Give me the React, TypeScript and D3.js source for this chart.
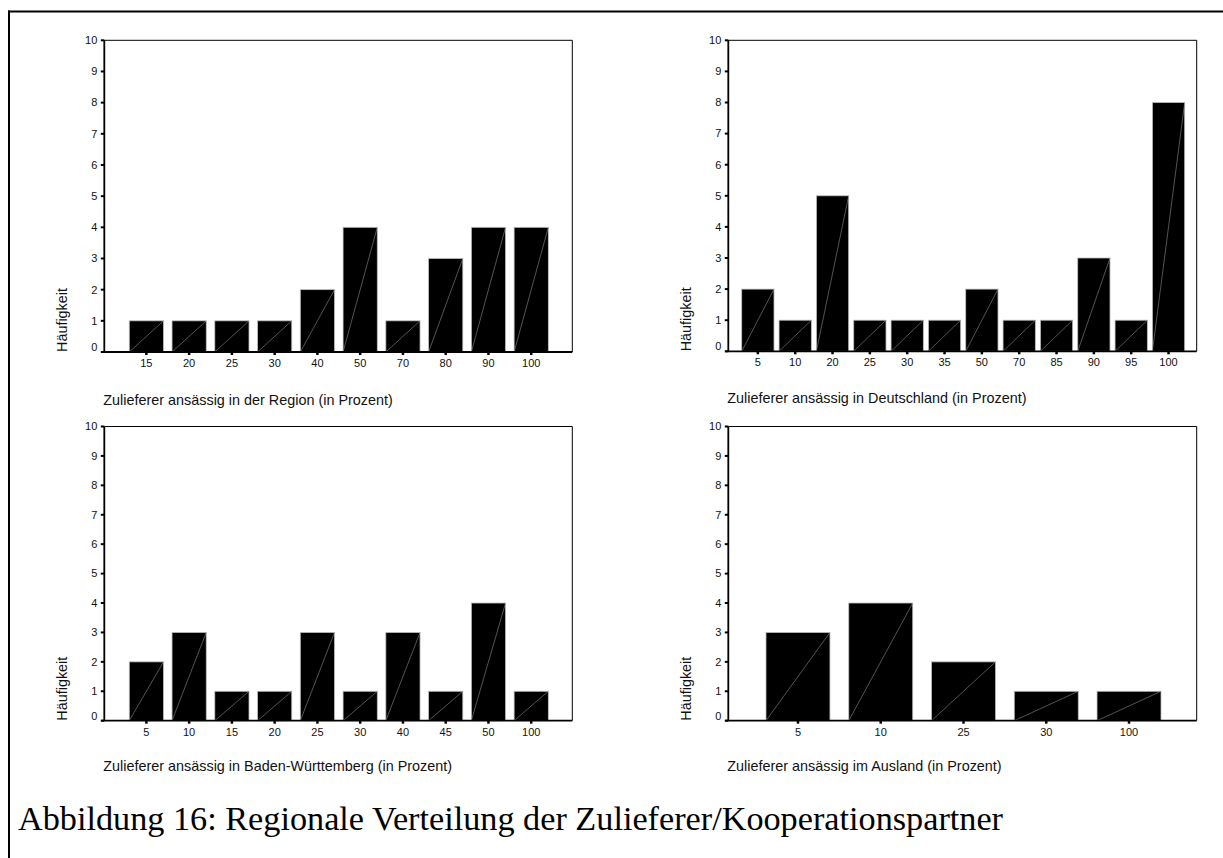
import React from "react";
import * as d3 from "d3";

// ---- Data ----
const regionCats = ["15", "20", "25", "30", "40", "50", "70", "80", "90", "100"];
const regionVals = [1, 1, 1, 1, 2, 4, 1, 3, 4, 4];

const deutschCats = ["5", "10", "20", "25", "30", "35", "50", "70", "85", "90", "95", "100"];
const deutschVals = [2, 1, 5, 1, 1, 1, 2, 1, 1, 3, 1, 8];

const bwCats = ["5", "10", "15", "20", "25", "30", "40", "45", "50", "100"];
const bwVals = [2, 3, 1, 1, 3, 1, 3, 1, 4, 1];

const auslandCats = ["5", "10", "25", "30", "100"];
const auslandVals = [3, 4, 2, 1, 1];

const yTicks = [0, 1, 2, 3, 4, 5, 6, 7, 8, 9, 10];
const yTitle = "Häufigkeit";
const caption = "Abbildung 16: Regionale Verteilung der Zulieferer/Kooperationspartner";

const titles = [
  "Zulieferer ansässig in der Region (in Prozent)",
  "Zulieferer ansässig in Deutschland (in Prozent)",
  "Zulieferer ansässig in Baden-Württemberg (in Prozent)",
  "Zulieferer ansässig im Ausland (in Prozent)",
];

const FONT = "Arial, 'Liberation Sans', sans-serif";

type PanelProps = {
  cats: string[];
  vals: number[];
  title: string;
  left: number;
  right: number;
  top: number;
  bottom: number;
  bandL: number;
  bandR: number;
  pad: number;
  yTitleX: number;
  titleY: number;
};

function Panel(p: PanelProps) {
  const x = d3
    .scaleBand<string>()
    .domain(p.cats)
    .range([p.bandL, p.bandR])
    .paddingInner(p.pad)
    .paddingOuter(p.pad / 2);
  const y = d3.scaleLinear().domain([0, 10]).range([p.bottom, p.top]);
  const bw = x.bandwidth();
  return (
    <g>
      <line x1={p.left} x2={p.right} y1={p.top} y2={p.top} stroke="#000" strokeWidth={1} />
      <line x1={p.right} x2={p.right} y1={p.top} y2={p.bottom} stroke="#000" strokeWidth={1} />
      {p.cats.map((c, i) => {
        const x0 = x(c)!;
        const y0 = y(p.vals[i]);
        return (
          <g key={c}>
            <rect x={x0} y={y0} width={bw} height={p.bottom - y0} fill="#000" stroke="#bdbdbd" strokeWidth={0.8} />
            <line x1={x0} y1={p.bottom} x2={x0 + bw} y2={y0} stroke="#8c8c8c" strokeWidth={0.6} />
          </g>
        );
      })}
      <line x1={p.left} x2={p.left} y1={p.top} y2={p.bottom} stroke="#000" strokeWidth={1.8} />
      {yTicks.map((t) => (
        <g key={t}>
          <line x1={p.left - 3.5} x2={p.left} y1={y(t)} y2={y(t)} stroke="#000" strokeWidth={2} />
          <text
            x={p.left - 7}
            y={t === 0 ? y(t) - 5 : y(t)}
            dy="0.35em"
            textAnchor="end"
            fontFamily={FONT}
            fontSize={11}
            fill="#111"
          >
            {t}
          </text>
        </g>
      ))}
      <line x1={p.left - 3} x2={p.right} y1={p.bottom} y2={p.bottom} stroke="#000" strokeWidth={1.8} />
      {p.cats.map((c) => {
        const cx = x(c)! + bw / 2;
        return (
          <g key={"t" + c}>
            <line x1={cx} x2={cx} y1={p.bottom} y2={p.bottom + 3} stroke="#000" strokeWidth={2.5} />
            <text x={cx} y={p.bottom + 11} dy="0.35em" textAnchor="middle" fontFamily={FONT} fontSize={11} fill="#111">
              {c}
            </text>
          </g>
        );
      })}
      <text
        transform={`translate(${p.yTitleX},${p.bottom}) rotate(-90)`}
        dy="0.35em"
        textAnchor="start"
        fontFamily={FONT}
        fontSize={14.4}
        fill="#111"
      >
        {yTitle}
      </text>
      <text x={p.left - 1} y={p.titleY} dy="0.35em" fontFamily={FONT} fontSize={14.4} fill="#111">
        {p.title}
      </text>
    </g>
  );
}

export default function App() {
  return (
    <svg
      width={1223}
      height={858}
      style={{ position: "absolute", left: 0, top: 0, background: "#fff" }}
    >
      <rect x={0} y={0} width={1223} height={858} fill="#fff" />
      <line x1={8} x2={1223} y1={11.5} y2={11.5} stroke="#000" strokeWidth={2} />
      <line x1={9} x2={9} y1={10.5} y2={858} stroke="#000" strokeWidth={2} />

      <Panel
        cats={regionCats}
        vals={regionVals}
        title={titles[0]}
        left={104.3}
        right={572.3}
        top={40.3}
        bottom={352}
        bandL={125}
        bandR={552.6}
        pad={0.2}
        yTitleX={61.7}
        titleY={400}
      />
      <Panel
        cats={deutschCats}
        vals={deutschVals}
        title={titles[1]}
        left={728.3}
        right={1196.7}
        top={40.3}
        bottom={351.3}
        bandL={739.2}
        bandR={1187.2}
        pad={0.135}
        yTitleX={685.7}
        titleY={397.5}
      />
      <Panel
        cats={bwCats}
        vals={bwVals}
        title={titles[2]}
        left={104.3}
        right={572.3}
        top={426.5}
        bottom={720.7}
        bandL={125}
        bandR={552.6}
        pad={0.2}
        yTitleX={61.7}
        titleY={766}
      />
      <Panel
        cats={auslandCats}
        vals={auslandVals}
        title={titles[3]}
        left={728.3}
        right={1196.7}
        top={426.5}
        bottom={720.7}
        bandL={756.6}
        bandR={1170.4}
        pad={0.227}
        yTitleX={685.7}
        titleY={766}
      />

      <text
        x={18}
        y={818}
        dy="0.35em"
        fontFamily="'Times New Roman', 'Liberation Serif', serif"
        fontSize={33}
        textLength={985}
        lengthAdjust="spacingAndGlyphs"
        fill="#000"
      >
        {caption}
      </text>
    </svg>
  );
}
